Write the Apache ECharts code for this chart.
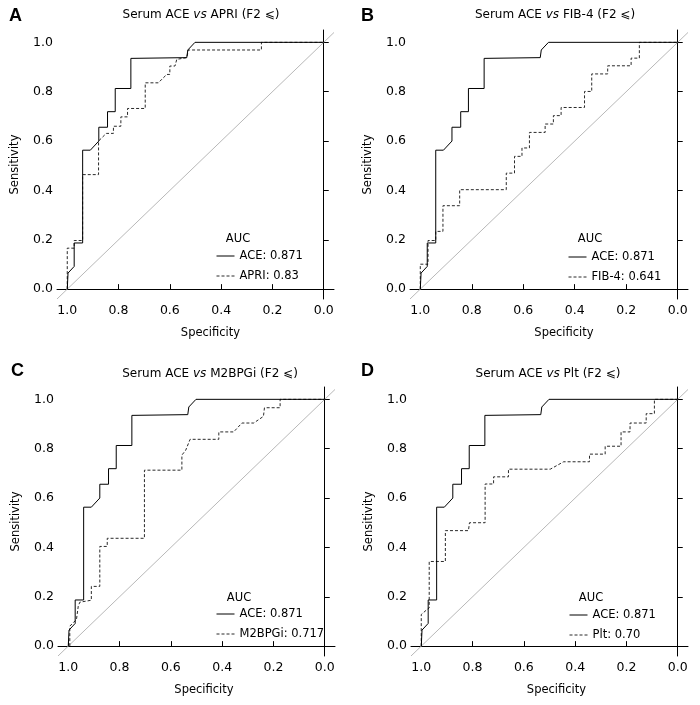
<!DOCTYPE html>
<html>
<head>
<meta charset="utf-8">
<title>Serum ACE ROC curves</title>
<script src="https://cdn.jsdelivr.net/npm/echarts@6/dist/echarts.min.js"></script>
<style>
  html, body { margin: 0; padding: 0; background: #fff; }
  #chart { width: 700px; height: 705px; }
</style>
</head>
<body>
<div id="chart"></div>
<script>
// ROC curves, points are [specificity, sensitivity]
var aceRoc = [[1, 0], [0.997, 0.065], [0.973, 0.092], [0.973, 0.187], [0.94, 0.187], [0.94, 0.563],
  [0.91, 0.563], [0.877, 0.6], [0.877, 0.656], [0.843, 0.656], [0.843, 0.719], [0.813, 0.719],
  [0.813, 0.813], [0.752, 0.813], [0.752, 0.935], [0.534, 0.938], [0.53, 0.969], [0.502, 1], [0, 1]]
var apriRoc = [[1, 0], [1, 0.166], [0.973, 0.166], [0.973, 0.197], [0.94, 0.197], [0.94, 0.464],
  [0.878, 0.464], [0.878, 0.6], [0.848, 0.631], [0.82, 0.631], [0.82, 0.66], [0.791, 0.66],
  [0.791, 0.698], [0.765, 0.698], [0.765, 0.732], [0.696, 0.732], [0.696, 0.836], [0.645, 0.836],
  [0.612, 0.87], [0.6, 0.87], [0.6, 0.904], [0.58, 0.904], [0.573, 0.931], [0.534, 0.938],
  [0.528, 0.969], [0.243, 0.969], [0.243, 1], [0, 1]]
var fib4Roc = [[1, 0], [1, 0.101], [0.97, 0.101], [0.97, 0.197], [0.94, 0.197], [0.94, 0.234],
  [0.912, 0.234], [0.912, 0.338], [0.847, 0.338], [0.847, 0.403], [0.666, 0.403], [0.666, 0.47],
  [0.634, 0.47], [0.634, 0.538], [0.605, 0.538], [0.605, 0.572], [0.576, 0.572], [0.576, 0.635],
  [0.515, 0.635], [0.515, 0.669], [0.483, 0.669], [0.483, 0.703], [0.453, 0.703], [0.453, 0.736],
  [0.362, 0.736], [0.362, 0.801], [0.334, 0.801], [0.334, 0.872], [0.272, 0.872], [0.272, 0.905],
  [0.181, 0.905], [0.181, 0.936], [0.149, 0.936], [0.149, 1], [0, 1]]
var m2bpgiRoc = [[0.994, 0], [0.994, 0.081], [0.968, 0.108], [0.961, 0.162], [0.955, 0.178],
  [0.91, 0.186], [0.91, 0.242], [0.877, 0.242], [0.877, 0.404], [0.848, 0.404], [0.848, 0.437],
  [0.703, 0.437], [0.703, 0.713], [0.557, 0.713], [0.557, 0.774], [0.542, 0.794], [0.525, 0.838],
  [0.413, 0.838], [0.413, 0.868], [0.355, 0.868], [0.323, 0.904], [0.277, 0.904], [0.239, 0.931],
  [0.235, 0.966], [0.174, 0.966], [0.174, 1], [0, 1]]
var pltRoc = [[1, 0], [1, 0.128], [0.978, 0.148], [0.969, 0.155], [0.969, 0.343], [0.906, 0.343],
  [0.906, 0.468], [0.816, 0.468], [0.812, 0.5], [0.751, 0.5], [0.751, 0.657], [0.718, 0.657],
  [0.718, 0.686], [0.66, 0.686], [0.66, 0.717], [0.497, 0.717], [0.445, 0.747], [0.344, 0.747],
  [0.344, 0.778], [0.283, 0.778], [0.283, 0.81], [0.221, 0.81], [0.221, 0.868], [0.186, 0.868],
  [0.186, 0.904], [0.123, 0.904], [0.123, 0.942], [0.091, 0.942], [0.091, 1], [0, 1]]
var chanceLine = [[1.04, -0.04], [-0.04, 1.04]]
var tickValues = [0, 0.2, 0.4, 0.6, 0.8, 1.0]

var panelLetters = ['A', 'B', 'C', 'D']
var markerNames = ['APRI', 'FIB-4', 'M2BPGi', 'Plt']
var markerAuc = ['0.83', '0.641', '0.717', '0.70']
var aceAuc = '0.871'
var markerRocs = [apriRoc, fib4Roc, m2bpgiRoc, pltRoc]

// where each panel sits on the 700x705 page
var panels = [
  { grid: [57, 30, 277, 269], letter: [9, 7], title: [201, 9], auc: [238, 233], legend: [216, 250], shift: 30 },
  { grid: [410, 30, 278, 269], letter: [361, 7], title: [555, 9], auc: [590, 233], legend: [568, 251], shift: 30 },
  { grid: [58, 387, 277, 269], letter: [11, 362], title: [210, 368], auc: [239, 592], legend: [216, 608], shift: 15 },
  { grid: [411, 387, 277, 269], letter: [361, 362], title: [548, 368], auc: [591, 592], legend: [569, 609], shift: 14 }
]

var font = 'DejaVu Sans'
var aceName = 'ACE: ' + aceAuc

var grids = [], xAxes = [], yAxes = [], series = [], titles = [], legends = []

panels.forEach(function (p, i) {
  grids.push({ left: p.grid[0], top: p.grid[1], width: p.grid[2], height: p.grid[3] })

  xAxes.push({
    gridIndex: i, type: 'value', inverse: true, min: -0.04, max: 1.04,
    name: 'Specificity', nameLocation: 'middle', nameGap: 28,
    nameTextStyle: { color: '#000', fontFamily: font, fontSize: 11.5, padding: [0, 0, 0, p.shift] },
    axisLine: { show: true, lineStyle: { color: '#000', width: 1 } },
    axisTick: { show: true, inside: true, length: 5, customValues: tickValues, lineStyle: { color: '#000' } },
    axisLabel: {
      customValues: tickValues, margin: 5, color: '#000', fontFamily: font, fontSize: 12.5,
      formatter: function (v) { return v.toFixed(1) }
    },
    splitLine: { show: false }
  })

  yAxes.push({
    gridIndex: i, type: 'value', min: -0.04, max: 1.05,
    name: 'Sensitivity', nameLocation: 'middle', nameGap: 36,
    nameTextStyle: { color: '#000', fontFamily: font, fontSize: 11.5 },
    axisLine: { show: true, lineStyle: { color: '#000', width: 1 } },
    axisTick: { show: true, inside: true, length: 5, customValues: tickValues, lineStyle: { color: '#000' } },
    axisLabel: {
      customValues: tickValues, margin: 4, color: '#000', fontFamily: font, fontSize: 12.5,
      formatter: function (v) { return v.toFixed(1) }
    },
    splitLine: { show: false }
  })

  var otherName = markerNames[i] + ': ' + markerAuc[i]

  series.push({
    type: 'line', xAxisIndex: i, yAxisIndex: i, data: chanceLine,
    symbol: 'none', silent: true, lineStyle: { color: '#b8b8b8', width: 1 }
  })
  series.push({
    name: otherName, type: 'line', xAxisIndex: i, yAxisIndex: i, data: markerRocs[i],
    symbol: 'none', color: '#2a2a2a', lineStyle: { color: '#2a2a2a', width: 1, type: [3, 2] }
  })
  series.push({
    name: aceName, type: 'line', xAxisIndex: i, yAxisIndex: i, data: aceRoc,
    symbol: 'none', color: '#000', lineStyle: { color: '#000', width: 1 }
  })

  titles.push({
    text: panelLetters[i], left: p.letter[0], top: p.letter[1], padding: 0,
    textStyle: { fontFamily: 'Liberation Sans', fontSize: 18, fontWeight: 'bold', color: '#000' }
  })
  titles.push({
    text: 'Serum ACE {i|vs} ' + markerNames[i] + ' (F2 ⩽)',
    left: p.title[0], top: p.title[1], textAlign: 'center', padding: 0,
    textStyle: {
      fontFamily: font, fontSize: 12, fontWeight: 'normal', color: '#000',
      rich: { i: { fontFamily: font, fontSize: 12, fontStyle: 'italic', color: '#000' } }
    }
  })
  titles.push({
    text: 'AUC', left: p.auc[0], top: p.auc[1], textAlign: 'center', padding: 0,
    textStyle: { fontFamily: font, fontSize: 11.5, fontWeight: 'normal', color: '#000' }
  })

  // line samples only, no symbol in the legend
  legends.push({
    data: [aceName, otherName], orient: 'vertical', left: p.legend[0], top: p.legend[1],
    padding: 0, itemWidth: 18, itemHeight: 14, itemGap: 8, selectedMode: false,
    itemStyle: { opacity: 0 },
    lineStyle: { width: 1 },
    textStyle: { fontFamily: font, fontSize: 11.5, color: '#000' }
  })
})

var chart = echarts.init(document.getElementById('chart'))
chart.setOption({
  animation: false,
  backgroundColor: '#fff',
  title: titles,
  legend: legends,
  grid: grids,
  xAxis: xAxes,
  yAxis: yAxes,
  series: series
})
</script>
</body>
</html>
